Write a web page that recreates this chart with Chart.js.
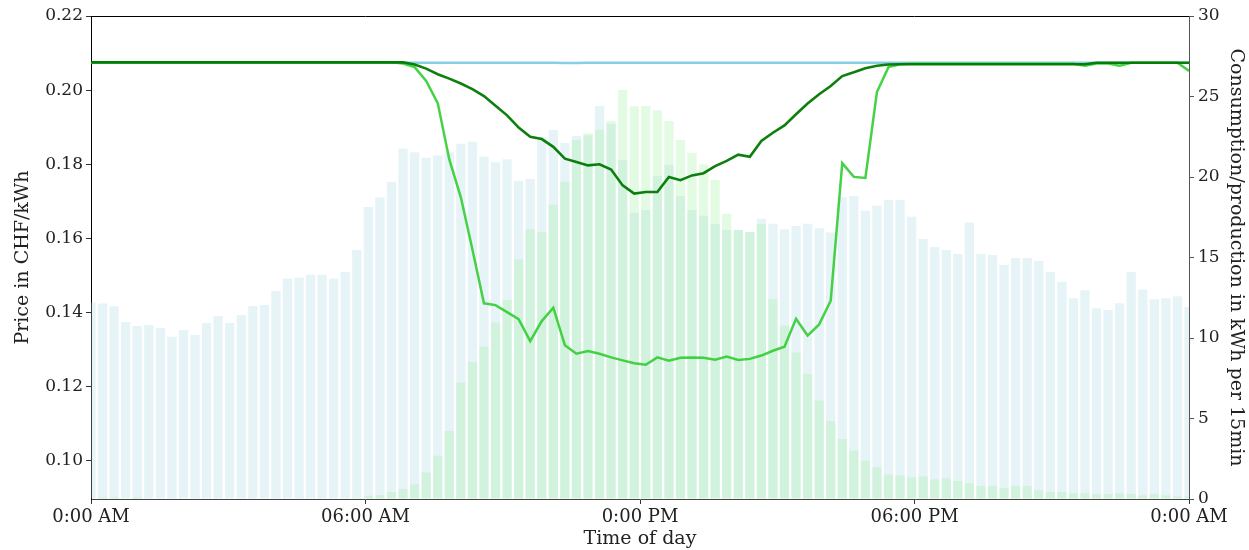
<!DOCTYPE html>
<html lang="en">
<head>
    <meta charset="UTF-8">
    <title>Price and consumption over the day</title>
    <script src="https://cdn.jsdelivr.net/npm/chart.js"></script>
    <style>
        body { margin: 0; background: #fff; }
    </style>
</head>
<body>
    <canvas id="grafico" width="1249" height="550"></canvas>
<script>
    // quarter hours of the day (0 = 0:00, 95 = last slot)
    const slots = [
        0, 1, 2, 3, 4, 5, 6, 7, 8, 9, 10, 11, 12, 13, 14, 15,
        16, 17, 18, 19, 20, 21, 22, 23, 24, 25, 26, 27, 28, 29, 30, 31,
        32, 33, 34, 35, 36, 37, 38, 39, 40, 41, 42, 43, 44, 45, 46, 47,
        48, 49, 50, 51, 52, 53, 54, 55, 56, 57, 58, 59, 60, 61, 62, 63,
        64, 65, 66, 67, 68, 69, 70, 71, 72, 73, 74, 75, 76, 77, 78, 79,
        80, 81, 82, 83, 84, 85, 86, 87, 88, 89, 90, 91, 92, 93, 94, 95
    ];
    const xTickPos = [0, 23.75, 47.5, 71.25, 95];
    const xTickLabels = ['0:00 AM', '06:00 AM', '0:00 PM', '06:00 PM', '0:00 AM'];

    // kWh per 15 min
    const consumption = [
        12.2, 12.15, 11.97, 10.99, 10.75, 10.81, 10.62, 10.08, 10.5, 10.19, 10.93, 11.37, 10.93, 11.43, 11.99, 12.05,
        12.92, 13.68, 13.75, 13.93, 13.93, 13.68, 14.1, 15.47, 18.14, 18.72, 19.69, 21.76, 21.53, 21.2, 21.33, 21.53,
        22.07, 22.19, 21.26, 20.91, 21.1, 19.75, 19.88, 22.48, 22.92, 22.11, 22.55, 22.6, 24.41, 23.3, 21.06, 17.78,
        17.95, 20.06, 20.75, 18.82, 17.95, 17.6, 17.08, 16.71, 16.71, 16.58, 17.41, 17.1, 16.76, 16.96, 17.1, 16.81,
        16.56, 18.76, 18.82, 17.91, 18.21, 18.57, 18.57, 17.53, 16.15, 15.65, 15.47, 15.22, 17.18, 15.22, 15.16, 14.53,
        14.97, 14.97, 14.78, 14.1, 13.5, 12.47, 12.96, 11.85, 11.74, 12.16, 14.1, 13.02, 12.4, 12.47, 12.59, 11.92
    ];
    const production = [
        0, 0.1, 0.1, 0, 0.1, 0, 0, 0, 0, 0, 0, 0, 0, 0, 0, 0,
        0, 0, 0, 0, 0, 0, 0, 0.05, 0.19, 0.25, 0.43, 0.62, 0.91, 1.64, 2.69, 4.22,
        7.23, 8.51, 9.46, 10.95, 12.36, 14.87, 16.75, 16.58, 18.28, 19.71, 22.3, 22.7, 22.94, 23.5, 25.4, 24.39,
        24.41, 24.15, 23.48, 22.3, 21.51, 20.79, 19.81, 17.72, 16.73, 16.59, 17.08, 12.42, 10.76, 9.1, 7.76, 6.11,
        4.84, 3.73, 3.0, 2.38, 1.97, 1.52, 1.46, 1.34, 1.41, 1.22, 1.28, 1.12, 0.98, 0.8, 0.8, 0.68,
        0.8, 0.8, 0.56, 0.43, 0.43, 0.35, 0.35, 0.3, 0.3, 0.35, 0.3, 0.23, 0.3, 0.23, 0.15, 0.15
    ];

    // CHF/kWh
    const priceFlat = [
        0.2074, 0.2074, 0.2074, 0.2074, 0.2074, 0.2074, 0.2074, 0.2074, 0.2074, 0.2074, 0.2074, 0.2074, 0.2074, 0.2074, 0.2074, 0.2074,
        0.2074, 0.2074, 0.2074, 0.2074, 0.2074, 0.2074, 0.2074, 0.2074, 0.2074, 0.2074, 0.2074, 0.2074, 0.2074, 0.2074, 0.2074, 0.2074,
        0.2074, 0.2074, 0.2074, 0.2074, 0.2074, 0.2074, 0.2074, 0.2074, 0.2074, 0.2073, 0.2073, 0.2074, 0.2074, 0.2074, 0.2074, 0.2074,
        0.2074, 0.2074, 0.2074, 0.2074, 0.2074, 0.2074, 0.2074, 0.2074, 0.2074, 0.2074, 0.2074, 0.2074, 0.2074, 0.2074, 0.2074, 0.2074,
        0.2074, 0.2074, 0.2074, 0.2074, 0.2074, 0.2074, 0.2074, 0.2074, 0.2074, 0.2074, 0.2074, 0.2074, 0.2074, 0.2074, 0.2074, 0.2074,
        0.2074, 0.2074, 0.2074, 0.2074, 0.2074, 0.2074, 0.2074, 0.2074, 0.2074, 0.2074, 0.2074, 0.2074, 0.2074, 0.2074, 0.2074, 0.2074
    ];
    const priceSmooth = [
        0.2075, 0.2075, 0.2075, 0.2075, 0.2075, 0.2075, 0.2075, 0.2075, 0.2075, 0.2075, 0.2075, 0.2075, 0.2075, 0.2075, 0.2075, 0.2075,
        0.2075, 0.2075, 0.2075, 0.2075, 0.2075, 0.2075, 0.2075, 0.2075, 0.2075, 0.2075, 0.2075, 0.2075, 0.2069, 0.2058, 0.2043, 0.2031,
        0.2018, 0.2003, 0.1984, 0.1958, 0.1932, 0.1899, 0.1874, 0.1868, 0.1847, 0.1815, 0.1806, 0.1797, 0.1800, 0.1786, 0.1743, 0.1721,
        0.1725, 0.1725, 0.1766, 0.1757, 0.1770, 0.1776, 0.1795, 0.1809, 0.1826, 0.1820, 0.1863, 0.1885, 0.1905, 0.1935, 0.1964, 0.1989,
        0.2011, 0.2038, 0.2048, 0.2059, 0.2066, 0.2069, 0.2070, 0.2070, 0.2070, 0.2070, 0.2070, 0.2070, 0.2070, 0.2070, 0.2070, 0.2070,
        0.2070, 0.2070, 0.2070, 0.2070, 0.2070, 0.2070, 0.2070, 0.2074, 0.2074, 0.2074, 0.2074, 0.2074, 0.2074, 0.2074, 0.2074, 0.2074
    ];
    const priceDynamic = [
        0.2075, 0.2075, 0.2075, 0.2075, 0.2075, 0.2075, 0.2075, 0.2075, 0.2075, 0.2075, 0.2075, 0.2075, 0.2075, 0.2075, 0.2075, 0.2075,
        0.2075, 0.2075, 0.2075, 0.2075, 0.2075, 0.2075, 0.2075, 0.2075, 0.2075, 0.2075, 0.2075, 0.2072, 0.2062, 0.2025, 0.1965, 0.1813,
        0.1711, 0.1570, 0.1425, 0.1420, 0.1401, 0.1382, 0.1323, 0.1377, 0.1413, 0.1312, 0.1289, 0.1296, 0.1289, 0.1279, 0.1271, 0.1263,
        0.1259, 0.1279, 0.1270, 0.1278, 0.1279, 0.1278, 0.1273, 0.1281, 0.1272, 0.1275, 0.1284, 0.1297, 0.1308, 0.1383, 0.1338, 0.1368,
        0.1432, 0.1803, 0.1766, 0.1763, 0.1995, 0.2062, 0.2070, 0.2071, 0.2071, 0.2071, 0.2071, 0.2071, 0.2071, 0.2071, 0.2071, 0.2071,
        0.2071, 0.2071, 0.2071, 0.2071, 0.2071, 0.2071, 0.2066, 0.2072, 0.2072, 0.2066, 0.2074, 0.2074, 0.2074, 0.2074, 0.2074, 0.2052
    ];

    function pontos(valores) {
        return valores.map((v, i) => ({ x: slots[i], y: v }));
    }

    const fonte = 'DejaVu Serif, serif';

    // linha de cima do quadro
    const quadro = {
        id: 'quadro',
        afterDraw(chart) {
            const a = chart.chartArea;
            const c = chart.ctx;
            c.save();
            c.strokeStyle = '#000';
            c.lineWidth = 1;
            c.beginPath();
            c.moveTo(a.left, a.top + 0.5);
            c.lineTo(a.right, a.top + 0.5);
            c.stroke();
            c.restore();
        }
    };

    const ctx = document.getElementById('grafico').getContext('2d');
    const grafico = new Chart(ctx, {
        type: 'bar',
        data: {
            datasets: [
                {
                    type: 'line',
                    label: 'Price smooth',
                    data: pontos(priceSmooth),
                    yAxisID: 'y',
                    borderColor: 'rgba(0,120,0,0.95)',
                    borderWidth: 2.6,
                    pointRadius: 0,
                    tension: 0
                },
                {
                    type: 'line',
                    label: 'Price dynamic',
                    data: pontos(priceDynamic),
                    yAxisID: 'y',
                    borderColor: 'rgba(50,205,50,0.9)',
                    borderWidth: 2.5,
                    pointRadius: 0,
                    tension: 0
                },
                {
                    type: 'line',
                    label: 'Price flat',
                    data: pontos(priceFlat),
                    yAxisID: 'y',
                    borderColor: 'skyblue',
                    borderWidth: 2.5,
                    pointRadius: 0,
                    tension: 0
                },
                {
                    label: 'Production',
                    data: pontos(production),
                    yAxisID: 'y1',
                    backgroundColor: 'rgba(144,238,144,0.25)',
                    borderWidth: 0,
                    grouped: false,
                    categoryPercentage: 0.8,
                    barPercentage: 1,
                    clip: 0
                },
                {
                    label: 'Consumption',
                    data: pontos(consumption),
                    yAxisID: 'y1',
                    backgroundColor: 'rgba(173,216,230,0.3)',
                    borderWidth: 0,
                    grouped: false,
                    categoryPercentage: 0.8,
                    barPercentage: 1,
                    clip: 0
                }
            ]
        },
        options: {
            responsive: false,
            animation: false,
            layout: { padding: { top: 16 } },
            plugins: {
                legend: { display: false },
                tooltip: { enabled: false }
            },
            scales: {
                x: {
                    type: 'linear',
                    offset: false,
                    min: 0,
                    max: 95,
                    afterBuildTicks: (s) => { s.ticks = xTickPos.map(v => ({ value: v })); },
                    afterFit: (s) => { s.height = 51; },
                    ticks: {
                        autoSkip: false,
                        maxRotation: 0,
                        padding: 3,
                        color: '#222',
                        font: { family: fonte, size: 18 },
                        callback: (v) => xTickLabels[xTickPos.indexOf(v)]
                    },
                    grid: { drawOnChartArea: false, tickLength: 5, color: '#333', offset: false },
                    border: { color: '#444', width: 1 },
                    title: {
                        display: true,
                        text: 'Time of day',
                        color: '#222',
                        padding: { top: 0, bottom: 0 },
                        font: { family: fonte, size: 19, lineHeight: 1.2 }
                    }
                },
                y: {
                    position: 'left',
                    min: 0.0897,
                    max: 0.22,
                    afterFit: (s) => { s.width = 91; },
                    ticks: {
                        stepSize: 0.02,
                        includeBounds: false,
                        padding: 3,
                        color: '#222',
                        font: { family: fonte, size: 17 },
                        callback: (v) => v.toFixed(2)
                    },
                    grid: { drawOnChartArea: false, tickLength: 5, color: '#333' },
                    border: { color: '#000', width: 1 },
                    title: {
                        display: true,
                        text: 'Price in CHF/kWh',
                        color: '#222',
                        padding: { top: 12, bottom: 0 },
                        font: { family: fonte, size: 19, lineHeight: 1.2 }
                    }
                },
                y1: {
                    position: 'right',
                    min: 0,
                    max: 30,
                    afterFit: (s) => { s.width = 60; },
                    ticks: {
                        stepSize: 5,
                        padding: 4,
                        color: '#222',
                        font: { family: fonte, size: 17 }
                    },
                    grid: { drawOnChartArea: false, tickLength: 5, color: '#555' },
                    border: { color: '#555', width: 1 },
                    title: {
                        display: true,
                        text: 'Consumption/production in kWh per 15min',
                        color: '#222',
                        padding: { top: 2, bottom: 0 },
                        font: { family: fonte, size: 19, lineHeight: 1.2 }
                    }
                }
            }
        },
        plugins: [quadro]
    });
</script>
</body>
</html>
